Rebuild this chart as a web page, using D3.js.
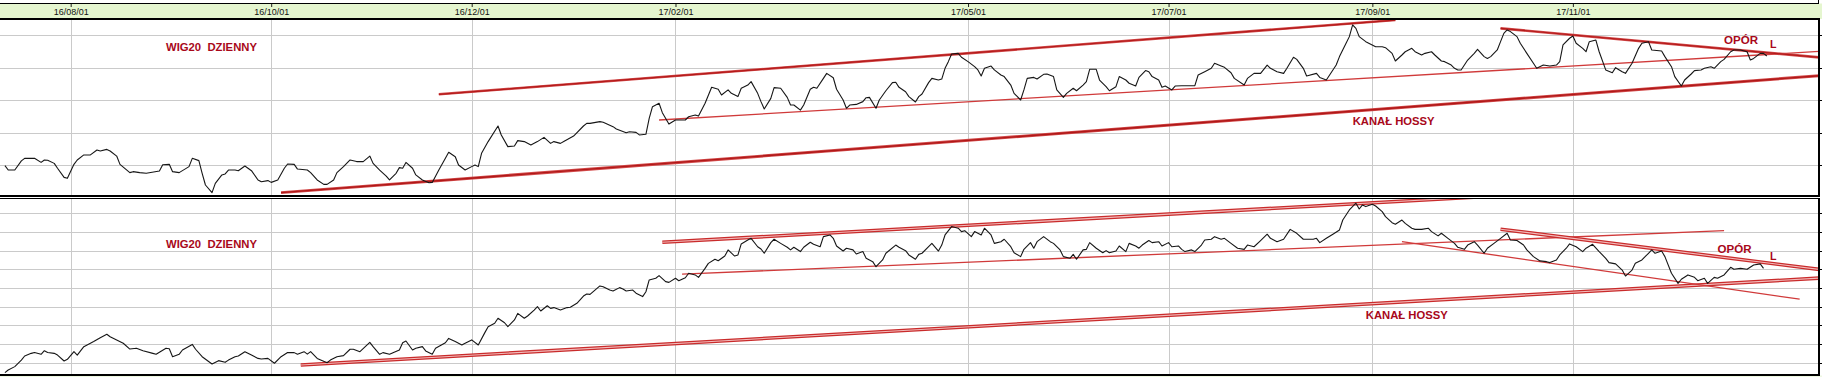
<!DOCTYPE html>
<html>
<head>
<meta charset="utf-8">
<script src="https://cdn.jsdelivr.net/npm/d3@7/dist/d3.min.js"></script>
<style>
html,body{margin:0;padding:0;background:#fff;}
svg{display:block;}
</style>
</head>
<body>
<svg id="chart" width="1822" height="377"></svg>
<script>
// ---------------- DATA ----------------
// day offsets are calendar days counted from BASE_DATE
const BASE_DATE = "2016-08-01";
const tickDates = ["2016-08-01","2016-10-01","2016-12-01","2017-02-01","2017-05-01","2017-07-01","2017-09-01","2017-11-01"];
const tickLabels = ["16/08/01","16/10/01","16/12/01","17/02/01","17/05/01","17/07/01","17/09/01","17/11/01"];
const topGrid = [1800, 2000, 2200, 2400, 2600];
const bottomGrid = [1700, 1800, 1900, 2000, 2100, 2200, 2300, 2400, 2500];

// upper panel: WIG20 daily close [day, value]
const topSeries = [[-20,1796],[-19,1769],[-17,1769],[-15,1825],[-14,1841],[-11,1841],[-9,1816],[-8,1831],[-7,1829],[-5,1810],[-4,1780],[-2,1724],[-1,1718],[1,1804],[2,1831],[4,1862],[6,1862],[8,1892],[9,1886],[11,1896],[12,1886],[14,1855],[15,1804],[18,1753],[19,1759],[21,1753],[23,1749],[27,1763],[28,1802],[30,1804],[31,1759],[33,1753],[36,1790],[37,1841],[39,1827],[40,1749],[41,1677],[43,1630],[44,1687],[46,1739],[47,1745],[48,1769],[50,1769],[51,1765],[53,1794],[55,1765],[57,1708],[58,1697],[60,1704],[61,1693],[63,1708],[65,1780],[66,1806],[68,1804],[69,1775],[72,1769],[73,1753],[75,1708],[77,1681],[78,1681],[80,1708],[81,1753],[83,1790],[85,1831],[87,1821],[89,1821],[91,1855],[92,1810],[94,1769],[96,1732],[97,1708],[99,1749],[100,1784],[101,1780],[102,1816],[104,1780],[105,1739],[107,1708],[109,1691],[110,1693],[112,1769],[114,1841],[115,1878],[117,1851],[118,1800],[120,1769],[122,1790],[123,1800],[124,1790],[125,1872],[127,1944],[130,2040],[131,1985],[133,1913],[135,1917],[136,1950],[138,1944],[140,1923],[142,1944],[144,1970],[146,1933],[147,1944],[149,1933],[150,1944],[153,1978],[156,2040],[157,2056],[158,2056],[161,2067],[162,2063],[165,2036],[166,2022],[169,1999],[170,2005],[172,2001],[173,1985],[175,1989],[176,2087],[177,2159],[179,2180],[180,2122],[182,2052],[184,2077],[185,2077],[187,2077],[188,2097],[190,2108],[191,2101],[193,2180],[195,2278],[197,2266],[198,2231],[200,2262],[201,2241],[203,2221],[204,2272],[206,2292],[207,2313],[209,2241],[210,2190],[211,2145],[213,2210],[214,2276],[216,2272],[218,2216],[219,2169],[220,2169],[222,2138],[223,2169],[225,2266],[226,2278],[227,2272],[229,2333],[230,2364],[232,2337],[233,2266],[235,2200],[236,2149],[237,2169],[239,2173],[241,2190],[242,2214],[243,2216],[245,2149],[246,2200],[248,2257],[250,2307],[251,2309],[252,2278],[254,2251],[255,2221],[257,2188],[258,2221],[259,2237],[261,2307],[262,2333],[264,2323],[265,2329],[266,2395],[267,2436],[268,2483],[270,2487],[271,2463],[273,2436],[275,2405],[276,2385],[277,2348],[278,2395],[280,2409],[281,2385],[283,2354],[284,2344],[286,2292],[287,2241],[289,2200],[290,2262],[291,2333],[293,2339],[294,2329],[296,2358],[297,2360],[299,2344],[300,2262],[302,2216],[303,2241],[305,2272],[306,2257],[308,2292],[309,2313],[310,2389],[312,2389],[313,2323],[315,2282],[316,2257],[318,2282],[319,2344],[321,2323],[322,2303],[324,2286],[325,2339],[327,2381],[328,2374],[329,2344],[331,2323],[332,2278],[333,2286],[335,2262],[336,2286],[338,2288],[342,2288],[343,2354],[345,2374],[347,2395],[348,2426],[350,2409],[351,2401],[353,2368],[354,2333],[357,2292],[358,2333],[360,2364],[362,2364],[364,2415],[365,2395],[367,2374],[369,2364],[370,2395],[372,2463],[373,2450],[375,2395],[376,2348],[379,2364],[380,2339],[382,2323],[383,2354],[385,2415],[386,2467],[388,2549],[389,2590],[390,2662],[391,2641],[392,2590],[394,2559],[397,2528],[399,2528],[400,2522],[402,2487],[403,2440],[405,2477],[406,2497],[408,2518],[409,2497],[411,2477],[412,2487],[414,2497],[415,2477],[417,2440],[418,2436],[420,2415],[421,2395],[422,2385],[423,2385],[425,2446],[427,2487],[428,2512],[430,2467],[431,2456],[432,2467],[434,2508],[435,2559],[436,2610],[437,2631],[438,2621],[440,2590],[441,2549],[443,2487],[445,2426],[446,2395],[448,2415],[450,2409],[452,2415],[453,2436],[454,2539],[456,2580],[457,2594],[458,2549],[460,2518],[461,2497],[462,2559],[464,2569],[465,2497],[467,2385],[469,2368],[470,2399],[472,2374],[473,2364],[475,2426],[477,2518],[478,2549],[480,2559],[481,2508],[484,2502],[485,2467],[487,2405],[488,2344],[490,2286],[491,2323],[493,2360],[494,2381],[496,2385],[497,2395],[499,2405],[500,2395],[502,2436],[503,2450],[505,2497],[506,2508],[508,2508],[510,2497],[511,2446],[512,2456],[514,2487],[515,2487],[516,2471]];

// lower panel: WIG20 daily close [day, value]
const bottomSeries = [[-20,1647],[-19,1661],[-17,1679],[-15,1714],[-14,1736],[-12,1750],[-11,1755],[-9,1745],[-8,1764],[-7,1755],[-5,1750],[-4,1741],[-2,1709],[-1,1718],[1,1759],[2,1741],[4,1786],[7,1813],[9,1834],[11,1852],[12,1839],[14,1822],[16,1804],[18,1773],[20,1777],[22,1764],[25,1750],[26,1745],[29,1777],[30,1775],[31,1732],[33,1745],[34,1768],[37,1798],[38,1772],[40,1732],[43,1693],[45,1711],[47,1702],[48,1714],[50,1732],[51,1736],[53,1759],[55,1741],[57,1723],[58,1720],[60,1723],[62,1697],[64,1732],[66,1755],[68,1754],[69,1745],[71,1759],[72,1746],[73,1759],[75,1723],[78,1700],[79,1714],[81,1732],[83,1738],[85,1772],[86,1772],[88,1759],[91,1809],[92,1786],[94,1745],[95,1754],[97,1745],[100,1768],[101,1807],[102,1816],[104,1768],[105,1777],[107,1786],[108,1763],[110,1745],[111,1777],[114,1807],[115,1830],[117,1813],[119,1795],[120,1804],[122,1822],[124,1795],[126,1861],[127,1893],[129,1911],[130,1938],[132,1914],[133,1893],[135,1929],[136,1964],[138,1938],[139,1950],[141,1982],[142,2000],[143,1977],[145,2005],[146,1991],[147,1995],[149,1982],[151,1995],[152,1997],[154,2018],[156,2057],[157,2068],[158,2066],[161,2111],[162,2107],[164,2089],[165,2084],[167,2102],[168,2095],[169,2084],[171,2089],[172,2072],[174,2054],[175,2080],[176,2143],[178,2152],[179,2166],[181,2134],[182,2130],[184,2152],[185,2139],[187,2155],[188,2179],[190,2170],[191,2157],[193,2205],[194,2232],[196,2254],[197,2246],[199,2271],[200,2304],[202,2271],[203,2277],[204,2336],[206,2357],[207,2366],[209,2321],[210,2309],[211,2286],[213,2343],[214,2361],[216,2339],[218,2318],[219,2304],[220,2318],[222,2295],[223,2318],[225,2345],[226,2334],[228,2321],[229,2375],[231,2384],[232,2366],[233,2325],[235,2298],[236,2313],[238,2304],[239,2282],[241,2295],[242,2259],[244,2241],[245,2214],[247,2250],[248,2286],[251,2330],[252,2318],[254,2300],[255,2277],[257,2254],[258,2280],[259,2286],[261,2321],[262,2339],[264,2298],[265,2330],[266,2384],[268,2429],[270,2420],[271,2402],[272,2407],[274,2375],[275,2402],[277,2384],[278,2420],[280,2384],[281,2339],[283,2348],[284,2361],[286,2321],[287,2289],[289,2268],[290,2307],[292,2343],[293,2313],[294,2348],[296,2375],[298,2348],[299,2339],[301,2304],[302,2268],[304,2259],[305,2280],[306,2254],[308,2304],[309,2307],[310,2343],[312,2313],[314,2289],[315,2300],[316,2289],[318,2298],[319,2325],[321,2295],[322,2339],[324,2325],[325,2313],[326,2330],[328,2354],[329,2343],[331,2348],[332,2325],[334,2343],[335,2321],[337,2325],[338,2307],[339,2295],[341,2304],[342,2295],[344,2330],[345,2357],[347,2361],[348,2375],[350,2361],[351,2366],[353,2339],[355,2313],[357,2307],[358,2330],[360,2321],[362,2354],[364,2388],[365,2366],[367,2348],[369,2361],[371,2414],[373,2393],[375,2361],[378,2361],[379,2366],[380,2343],[382,2366],[384,2388],[386,2411],[387,2464],[388,2491],[389,2518],[391,2554],[392,2523],[393,2545],[394,2536],[396,2548],[397,2539],[399,2509],[400,2482],[402,2450],[403,2441],[405,2464],[406,2446],[408,2420],[409,2414],[411,2414],[413,2420],[414,2402],[416,2379],[417,2393],[419,2366],[421,2339],[422,2318],[424,2307],[425,2330],[427,2348],[428,2330],[430,2286],[431,2313],[433,2339],[435,2366],[437,2393],[438,2357],[440,2354],[442,2330],[443,2304],[445,2268],[447,2245],[449,2241],[450,2236],[452,2250],[453,2277],[455,2313],[456,2336],[458,2321],[460,2295],[461,2313],[463,2334],[465,2295],[467,2259],[468,2236],[470,2229],[472,2196],[473,2164],[475,2196],[476,2232],[478,2250],[480,2286],[481,2304],[482,2286],[484,2298],[485,2268],[487,2179],[489,2125],[490,2147],[492,2170],[494,2157],[495,2139],[497,2152],[498,2125],[500,2157],[501,2152],[503,2170],[505,2211],[506,2200],[508,2205],[510,2200],[512,2223],[514,2229],[515,2205]];

// trend lines: [startDay, startValue, endDay, endValue]
const topUpperChannel  = [112, 2235, 403, 2692];
const topMiddleChannel = [179, 2077, 533, 2500];
const topLowerChannel  = [64, 1630, 533, 2351];
const topResistance    = [435, 2641, 533, 2460];
const bottomUpperChannel  = [180, 2345, 440, 2599];
const bottomMiddleChannel = [186, 2174, 503, 2407];
const bottomFallingLine   = [405, 2348, 526, 2040];
const bottomResistance    = [435, 2415, 533, 2197];
const bottomLowerChannel  = [70, 1688, 533, 2154];

// annotations: [text, day, value]
const topNotes = [["WIG20  DZIENNY", 29, 2501], ["KANAŁ HOSSY", 390, 2046], ["OPÓR", 503, 2545], ["L", 517, 2520]];
const bottomNotes = [["WIG20  DZIENNY", 29, 2312], ["KANAŁ HOSSY", 394, 1932], ["OPÓR", 501, 2290], ["L", 517, 2250]];

// ---------------- DRAWING ----------------
const svg = d3.select("#chart");
const W = 1822;
const RIGHT = 1819;
const parseDay = d3.timeParse("%Y-%m-%d");
const base = parseDay(BASE_DATE);
const dayToDate = d => d3.timeDay.offset(base, d);
const ticks = tickDates.map(parseDay);

const x = d3.scaleTime()
  .domain([new Date(2016, 6, 10, 12), new Date(2018, 0, 15, 19)])
  .range([0, W]);

const panels = [
  { id: "p1", top: 19, bottom: 196,
    y: d3.scaleLinear().domain([1800, 2600]).range([165, 35]),
    grid: topGrid, series: topSeries, notes: topNotes,
    trends: [[topLowerChannel, "thick"], [topUpperChannel, "thick2"], [topMiddleChannel, "thin"], [topResistance, "thick2"]] },
  { id: "p2", top: 198.5, bottom: 375,
    y: d3.scaleLinear().domain([1700, 2500]).range([362.7, 213.3]),
    grid: bottomGrid, series: bottomSeries, notes: bottomNotes,
    trends: [[bottomLowerChannel, "double"], [bottomUpperChannel, "double"], [bottomMiddleChannel, "thin"], [bottomFallingLine, "thin"], [bottomResistance, "double"]] }
];

svg.append("rect").attr("width", W).attr("height", 377).attr("fill", "#fff");

// header band
svg.append("rect").attr("x", 0).attr("y", 3.5).attr("width", W).attr("height", 15.5).attr("fill", "#e5f6cf");
svg.append("rect").attr("x", 0).attr("y", 375.5).attr("width", W).attr("height", 1.5).attr("fill", "#eef8e2");

const defs = svg.append("defs");

const noteStyle = {
  "WIG20  DZIENNY": { size: 11.5, len: 91 },
  "KANAŁ HOSSY": { size: 11.5, len: 82 },
  "OPÓR": { size: 11.5, len: 34 },
  "L": { size: 11.5, len: 6.5 }
};

panels.forEach(p => {
  defs.append("clipPath").attr("id", "clip-" + p.id)
    .append("rect").attr("x", 0).attr("y", p.top).attr("width", RIGHT).attr("height", p.bottom - p.top);

  // vertical grid
  svg.append("g").attr("transform", `translate(0,${p.top})`)
    .call(d3.axisBottom(x).tickValues(ticks).tickSize(p.bottom - p.top).tickFormat(""))
    .call(g => g.select(".domain").remove())
    .call(g => g.selectAll("line").attr("stroke", "#cacaca").attr("shape-rendering", "crispEdges"));

  // horizontal grid
  svg.append("g")
    .call(d3.axisRight(p.y).tickValues(p.grid).tickSize(RIGHT).tickFormat(""))
    .call(g => g.select(".domain").remove())
    .call(g => g.selectAll("line").attr("stroke", "#cacaca").attr("shape-rendering", "crispEdges"));

  // right ticks
  svg.append("g").attr("transform", `translate(${RIGHT},0)`)
    .call(d3.axisRight(p.y).tickValues(p.grid).tickSize(3).tickFormat(""))
    .call(g => g.select(".domain").remove())
    .call(g => g.selectAll("line").attr("stroke", "#000").attr("shape-rendering", "crispEdges"));

  const plot = svg.append("g").attr("clip-path", `url(#clip-${p.id})`);
  const seg = d3.line().x(d => x(dayToDate(d[0]))).y(d => p.y(d[1]));

  p.trends.forEach(([t, kind]) => {
    const pts = [[t[0], t[1]], [t[2], t[3]]];
    if (kind === "double") {
      plot.append("path").attr("d", seg(pts)).attr("fill", "none").attr("stroke", "#c92b2b").attr("stroke-width", 3.6);
      plot.append("path").attr("d", seg(pts)).attr("fill", "none").attr("stroke", "#f2bcbc").attr("stroke-width", 1.1);
    } else if (kind === "thick") {
      plot.append("path").attr("d", seg(pts)).attr("fill", "none").attr("stroke", "#d24a4a").attr("stroke-width", 3);
      plot.append("path").attr("d", seg(pts)).attr("fill", "none").attr("stroke", "#b01818").attr("stroke-width", 1.4);
    } else if (kind === "thick2") {
      plot.append("path").attr("d", seg(pts)).attr("fill", "none").attr("stroke", "#d24a4a").attr("stroke-width", 2.6);
      plot.append("path").attr("d", seg(pts)).attr("fill", "none").attr("stroke", "#b41a1a").attr("stroke-width", 1.2);
    } else {
      plot.append("path").attr("d", seg(pts)).attr("fill", "none").attr("stroke", "#d03a3a").attr("stroke-width", 1.3);
    }
  });

  plot.append("path").datum(p.series).attr("d", seg)
    .attr("fill", "none").attr("stroke", "#161616").attr("stroke-width", 1.1).attr("stroke-linejoin", "round");

  svg.append("g").selectAll("text").data(p.notes).join("text")
    .attr("x", d => x(dayToDate(d[1])))
    .attr("y", d => p.y(d[2]))
    .attr("fill", "#a8081a")
    .attr("font-family", "'Liberation Sans',Arial,sans-serif")
    .attr("font-weight", "bold")
    .attr("font-size", d => noteStyle[d[0]].size)
    .attr("textLength", d => noteStyle[d[0]].len)
    .attr("lengthAdjust", "spacingAndGlyphs")
    .style("white-space", "pre")
    .text(d => d[0]);
});

// header date axis
svg.append("g").attr("transform", "translate(0,3.5)")
  .call(d3.axisBottom(x).tickValues(ticks).tickSize(3.5).tickPadding(1.6).tickFormat((d, i) => tickLabels[i]))
  .call(g => g.select(".domain").remove())
  .attr("font-family", "'Liberation Sans',Arial,sans-serif")
  .attr("font-size", 9)
  .call(g => g.selectAll("text").attr("fill", "#111"))
  .call(g => g.selectAll("line").attr("stroke", "#222"));

// frame
const frame = svg.append("g").attr("stroke", "#000").attr("fill", "none").attr("shape-rendering", "crispEdges");
frame.append("line").attr("x1", 0).attr("x2", 1818).attr("y1", 3.5).attr("y2", 3.5).attr("stroke-width", 1.4);
frame.append("line").attr("x1", 1818).attr("x2", 1818).attr("y1", 0).attr("y2", 3.5).attr("stroke-width", 1);
frame.append("line").attr("x1", 0).attr("x2", RIGHT + 0.5).attr("y1", 19).attr("y2", 19).attr("stroke-width", 1.6);
frame.append("line").attr("x1", 0).attr("x2", RIGHT + 0.5).attr("y1", 196).attr("y2", 196).attr("stroke-width", 1.6);
frame.append("line").attr("x1", 0).attr("x2", RIGHT + 0.5).attr("y1", 198.5).attr("y2", 198.5).attr("stroke-width", 1.2);
frame.append("line").attr("x1", 0).attr("x2", RIGHT + 0.5).attr("y1", 375).attr("y2", 375).attr("stroke-width", 1.6);
frame.append("line").attr("x1", RIGHT).attr("x2", RIGHT).attr("y1", 19).attr("y2", 196).attr("stroke-width", 1.2);
frame.append("line").attr("x1", RIGHT).attr("x2", RIGHT).attr("y1", 198.5).attr("y2", 375).attr("stroke-width", 1.2);
</script>
</body>
</html>
